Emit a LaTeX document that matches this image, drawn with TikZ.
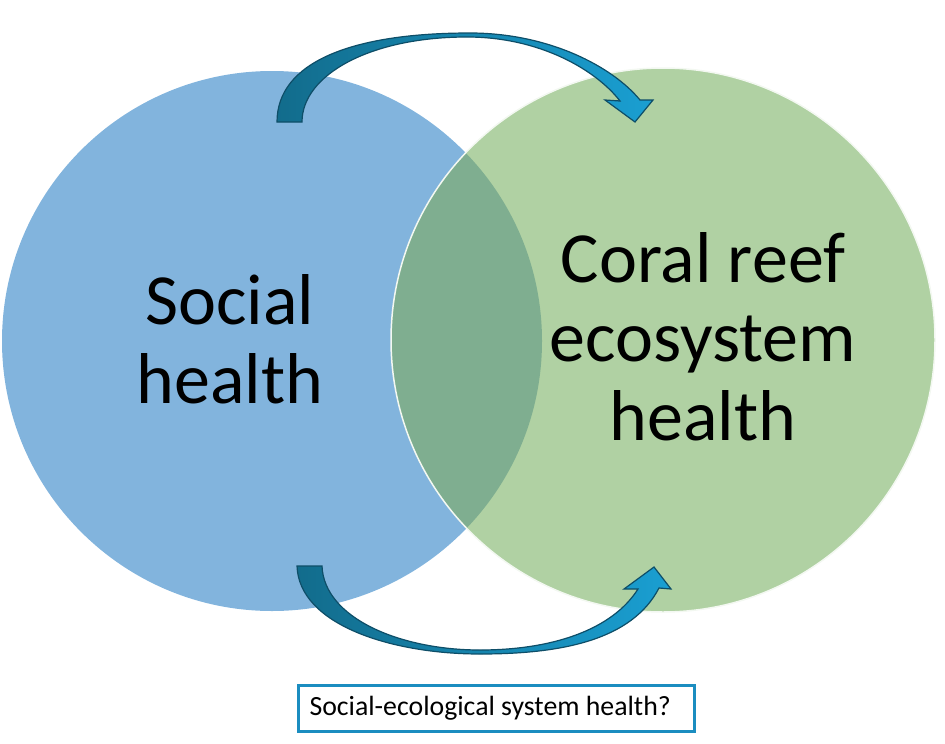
\documentclass[tikz,border=0pt]{standalone}
\usepackage{fontspec}
\setmainfont{Carlito}
\usetikzlibrary{shadings}
\definecolor{socblue}{HTML}{82B4DD}
\definecolor{reefgreen}{HTML}{B0D1A3}
\definecolor{overlapgreen}{HTML}{7FAE90}
\definecolor{arrowdark}{HTML}{126C8C}
\definecolor{arrowlight}{HTML}{1A9FD2}
\definecolor{arrowline}{HTML}{0E4E68}
\definecolor{boxblue}{HTML}{1B8DC0}
\tikzset{
  bigtext/.style={align=center, inner sep=0pt, font=\fontsize{72}{79}\selectfont, text=black},
  blockarrow/.style={draw=arrowline, line width=1.2pt, line join=miter, left color=arrowdark, right color=arrowlight, shading=axis, shading angle=90},
  qbox/.style={draw=boxblue, line width=3pt, fill=white, minimum width=396pt, minimum height=46pt, inner sep=0pt, font=\fontsize{27.8}{32}\selectfont}
}
\begin{document}
\begin{tikzpicture}[x=1pt,y=-1pt]
\useasboundingbox (0,0) rectangle (945,744);
% circles
\node[circle, fill=socblue, minimum size=540pt, inner sep=0pt] (soc) at (272,341) {};
\node[circle, fill=reefgreen, minimum size=544pt, inner sep=0pt] (reef) at (663,340) {};
\begin{scope}
  \clip (272,341) circle[radius=270];
  \fill[overlapgreen] (663,340) circle[radius=272];
\end{scope}
\draw[white!85!reefgreen, line width=1.5pt] (663,340) circle[radius=272];
% texts
\node[bigtext] (soctext) at (230,339) {Social\\health};
\node[bigtext] (reeftext) at (703,337) {Coral reef\\ecosystem\\health};
% top arrow
\path[blockarrow]
  (277,122) .. controls (277,62) and (352,33) .. (470,33)
  .. controls (548,33) and (612,66) .. (640,100)
  -- (653,100) -- (635,122) -- (605,100) -- (620,101)
  .. controls (596,70) and (540,37) .. (467,37)
  .. controls (370,37) and (302,75) .. (302,122) -- cycle;
% bottom arrow
\path[blockarrow]
  (297,566) .. controls (299,625) and (392,654) .. (480,654)
  .. controls (562,654) and (632,640) .. (659,588)
  -- (671,589) -- (654,567) -- (624,589) -- (638,589)
  .. controls (612,630) and (552,650) .. (480,650)
  .. controls (400,650) and (324,618) .. (322,566) -- cycle;
% question box
\node[qbox] (question) at (496.5,708.5) {\makebox[374pt][l]{Social-ecological system health?}};
\end{tikzpicture}
\end{document}
